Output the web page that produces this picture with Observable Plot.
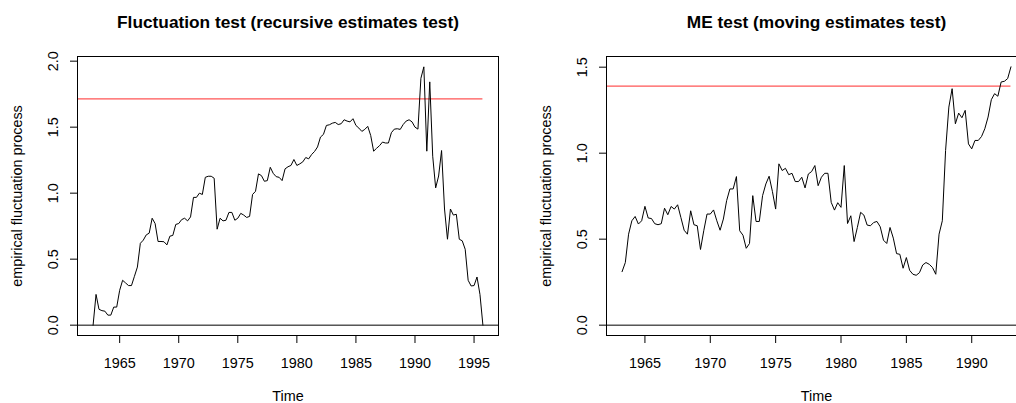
<!DOCTYPE html>
<html><head><meta charset="utf-8">
<script src="https://cdn.jsdelivr.net/npm/d3@7"></script>
<script src="https://cdn.jsdelivr.net/npm/@observablehq/plot@0.6"></script>
<style>
body{margin:0;background:#fff;}
#wrap{position:relative;width:1016px;height:403px;overflow:hidden;background:#fff;}
#left,#right{position:absolute;top:0;}
#left{left:0;width:508px;} #right{left:508px;width:529px;}
#wrap svg{max-width:none !important;}
</style></head><body><div id="wrap"><div id="left"></div><div id="right"></div></div>
<script>
// Recursive estimates (RE) fluctuation process, quarterly from 1962 Q4
const reStart = 1962.75;
const reValues = [
  0, 0.233, 0.12, 0.11, 0.106, 0.076, 0.076, 0.137, 0.137, 0.264,
  0.34, 0.32, 0.30, 0.30, 0.37, 0.44, 0.62, 0.644, 0.684, 0.697,
  0.81, 0.77, 0.634, 0.634, 0.632, 0.608, 0.674, 0.68, 0.763, 0.77,
  0.80, 0.81, 0.79, 0.82, 0.968, 0.968, 1.0, 0.99, 1.12, 1.128,
  1.128, 1.113, 0.727, 0.81, 0.79, 0.795, 0.854, 0.854, 0.795, 0.81,
  0.847, 0.834, 0.816, 0.824, 0.99, 1.014, 1.146, 1.133, 1.09, 1.095,
  1.196, 1.15, 1.125, 1.12, 1.095, 1.184, 1.2, 1.21, 1.255, 1.21,
  1.222, 1.237, 1.27, 1.26, 1.293, 1.316, 1.35, 1.425, 1.445, 1.513,
  1.518, 1.53, 1.536, 1.52, 1.526, 1.556, 1.546, 1.54, 1.564, 1.513,
  1.493, 1.468, 1.483, 1.506, 1.437, 1.318, 1.34, 1.36, 1.387, 1.38,
  1.38, 1.458, 1.485, 1.488, 1.483,
  1.52, 1.546, 1.556, 1.54, 1.50, 1.485,
  1.87, 1.957, 1.318, 1.843, 1.28, 1.04, 1.13, 1.323, 0.88, 0.651,
  0.88, 0.834, 0.84, 0.651, 0.639, 0.575, 0.34, 0.297, 0.30, 0.365,
  0.233, 0
];
const reBoundary = 1.714;

// Moving estimates (ME) fluctuation process, quarterly from 1963 Q2
const meStart = 1963.25;
const meValues = [
  0.311, 0.364, 0.529, 0.607, 0.632, 0.588, 0.607, 0.691, 0.623, 0.62,
  0.59, 0.584, 0.59, 0.68, 0.642, 0.69, 0.675, 0.70, 0.626, 0.552,
  0.529, 0.665, 0.584, 0.578, 0.44, 0.549, 0.646, 0.646, 0.67, 0.607,
  0.552, 0.617, 0.724, 0.792, 0.792, 0.864, 0.549, 0.523, 0.447, 0.475,
  0.753, 0.603, 0.603, 0.753, 0.821, 0.866, 0.778, 0.675, 0.938, 0.899,
  0.912, 0.875, 0.883, 0.835, 0.835, 0.86, 0.798, 0.879, 0.893, 0.928,
  0.811, 0.86, 0.883, 0.883, 0.714, 0.669, 0.712, 0.685, 0.928, 0.591,
  0.636, 0.486, 0.568, 0.656, 0.64, 0.582, 0.578, 0.597, 0.603, 0.572,
  0.494, 0.475, 0.568, 0.506, 0.416, 0.412, 0.331, 0.393, 0.319, 0.296,
  0.29, 0.305, 0.35, 0.364, 0.354, 0.335, 0.296, 0.529, 0.607, 1.016,
  1.268, 1.375, 1.171, 1.233, 1.206, 1.249, 1.054, 1.025, 1.074, 1.074,
  1.097, 1.142, 1.21, 1.311, 1.346, 1.331, 1.414, 1.418, 1.434, 1.502
];
const meBoundary = 1.39;

const reXTicks = [1965, 1970, 1975, 1980, 1985, 1990, 1995];
const meXTicks = [1965, 1970, 1975, 1980, 1985, 1990];
const reYTicks = [0, 0.5, 1, 1.5, 2];
const meYTicks = [0, 0.5, 1, 1.5];
const reTitle = "Fluctuation test (recursive estimates test)";
const meTitle = "ME test (moving estimates test)";
const xLabel = "Time";
const yLabel = "empirical fluctuation process";

function panel({start, values, boundary, xTicks, yTicks, title, width, marginLeft, marginRight}) {
  const data = values.map((v, i) => ({t: start + i / 4, v}));
  const t0 = data[0].t, t1 = data[data.length - 1].t;
  const xr = t1 - t0;
  const xDomain = [t0 - 0.04 * xr, t1 + 0.04 * xr];
  const vmin = Math.min(0, d3.min(values), boundary), vmax = Math.max(0, d3.max(values), boundary);
  const yr = vmax - vmin;
  const yDomain = [vmin - 0.04 * yr, vmax + 0.04 * yr];
  return Plot.plot({
    width, height: 403, marginLeft, marginRight, marginTop: 56, marginBottom: 68,
    style: {fontFamily: "'Liberation Sans', Arial, Helvetica, sans-serif", fontSize: "14.4px", background: "white", color: "black", overflow: "visible", maxWidth: "none"},
    x: {domain: xDomain},
    y: {domain: yDomain},
    marks: [
      Plot.ruleY([0], {stroke: "black", strokeWidth: 1}),
      Plot.ruleY([boundary], {x1: xDomain[0], x2: t1, stroke: "#ff2a2a", strokeWidth: 1}),
      Plot.line(data, {x: "t", y: "v", stroke: "black", strokeWidth: 1}),
      Plot.frame({stroke: "black", strokeWidth: 1}),
      Plot.ruleY([yDomain[0]], {x1: xTicks[0], x2: xTicks[xTicks.length - 1], stroke: "black"}),
      Plot.axisX({ticks: xTicks, tickSize: 8, tickPadding: 14, tickFormat: d => String(d), label: null}),
      Plot.axisY({ticks: yTicks, tickSize: 7, tickPadding: 13, tickRotate: -90, tickFormat: d3.format(".1f"), label: null}),
      Plot.text([title], {frameAnchor: "top", dy: -29, lineAnchor: "bottom", textAnchor: "middle", fontWeight: "bold", fontSize: 17.3}),
      Plot.text([xLabel], {frameAnchor: "bottom", dy: 65.5, lineAnchor: "bottom", textAnchor: "middle"}),
      Plot.text([yLabel], {frameAnchor: "left", dx: -60, rotate: -90, lineAnchor: "middle", textAnchor: "middle"})
    ]
  });
}

document.getElementById("left").append(panel({
  start: reStart, values: reValues, boundary: reBoundary, xTicks: reXTicks, yTicks: reYTicks,
  title: reTitle, width: 508, marginLeft: 77, marginRight: 10
}));
document.getElementById("right").append(panel({
  start: meStart, values: meValues, boundary: meBoundary, xTicks: meXTicks, yTicks: meYTicks,
  title: meTitle, width: 529, marginLeft: 98, marginRight: 11
}));
</script></body></html>
